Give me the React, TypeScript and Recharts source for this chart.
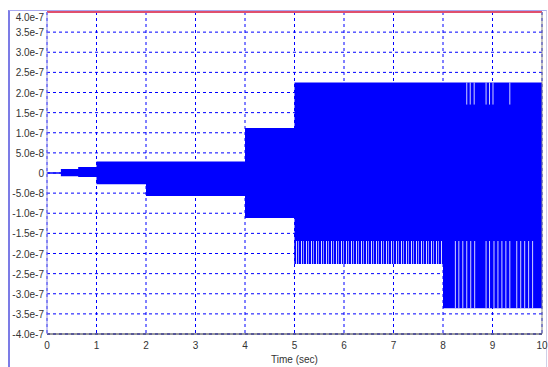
import React from "react";
import {
  ComposedChart,
  Area,
  XAxis,
  YAxis,
  CartesianGrid,
  ReferenceLine,
  ReferenceArea,
} from "recharts";

// envelope of the response: steps in time with the min/max of the oscillation
const times = [0, 0.28, 0.63, 1, 2, 4, 5, 8, 10];
const upper = [2e-9, 1e-8, 1.5e-8, 2.85e-8, 2.85e-8, 1.12e-7, 2.25e-7, 2.25e-7, 2.25e-7];
const lower = [-2e-9, -8e-9, -1e-8, -2.8e-8, -5.7e-8, -1.12e-7, -2.26e-7, -3.36e-7, -3.36e-7];

// band where the lower peaks only sometimes reach the full swing (5..8 s)
const partialBand = { t1: 5, t2: 8, from: -2.26e-7, to: -1.69e-7 };

// cycles that fall short of the envelope after 8 s
const lowGapTimes = [
  8.25, 8.32, 8.4, 8.48, 8.56, 8.64, 8.87, 8.94, 9.03, 9.11, 9.19, 9.27, 9.35,
  9.49, 9.57, 9.65, 9.73, 9.81,
];
const lowGapRange = [-3.36e-7, -1.69e-7];
const topGapTimes = [8.48, 8.55, 8.63, 8.87, 8.94, 9.01, 9.35];
const topGapRange = [1.7e-7, 2.25e-7];

const xTicks = [0, 1, 2, 3, 4, 5, 6, 7, 8, 9, 10];
const yTicks = [
  4e-7, 3.5e-7, 3e-7, 2.5e-7, 2e-7, 1.5e-7, 1e-7, 5e-8, 0, -5e-8, -1e-7,
  -1.5e-7, -2e-7, -2.5e-7, -3e-7, -3.5e-7, -4e-7,
];
const yTickLabels = [
  "4.0e-7", "3.5e-7", "3.0e-7", "2.5e-7", "2.0e-7", "1.5e-7", "1.0e-7",
  "5.0e-8", "0", "-5.0e-8", "-1.0e-7", "-1.5e-7", "-2.0e-7", "-2.5e-7",
  "-3.0e-7", "-3.5e-7", "-4.0e-7",
];

const rows = times.map((t, i) => ({ t, env: [lower[i], upper[i]] }));

const FONT = "'Liberation Sans', Arial, sans-serif";

const YTick = (props: any) => {
  const { x, y, payload } = props;
  const i = yTicks.indexOf(payload.value);
  const shift = i === 0 ? 5 : 0.5;
  return (
    <text
      x={x}
      y={y + shift}
      dy={3.6}
      textAnchor="end"
      fontSize={10}
      fontFamily={FONT}
      fill="#333"
    >
      {i >= 0 ? yTickLabels[i] : ""}
    </text>
  );
};

export default function App() {
  return (
    <div
      style={{
        position: "absolute",
        left: 0,
        top: 0,
        width: 548,
        height: 367,
        background: "#fff",
        fontFamily: FONT,
      }}
    >
      <div
        style={{
          position: "absolute",
          left: 8,
          top: 10,
          right: 1,
          bottom: 0,
          borderLeft: "2px solid #7c7ce6",
          borderTop: "1px solid #a8a8f0",
          borderRight: "1px solid #d0d0e8",
        }}
      />
      <div style={{ position: "absolute", left: 0, top: 0 }}>
        <ComposedChart
          width={548}
          height={367}
          data={rows}
          margin={{ top: 12, right: 6, bottom: 1, left: 0 }}
        >
          <defs>
            <pattern id="gaps" patternUnits="userSpaceOnUse" width={5} height={4}>
              <rect x={0} y={0} width={5} height={4} fill="#0000ff" />
              <rect x={1} y={0} width={1} height={4} fill="#d8d8ff" />
              <rect x={3} y={0} width={1} height={4} fill="#8c8cff" />
            </pattern>
          </defs>
          <CartesianGrid stroke="#0000ff" strokeDasharray="3 3" />
          <XAxis
            dataKey="t"
            type="number"
            domain={[0, 10]}
            ticks={xTicks}
            tickSize={0}
            tickMargin={8}
            height={32}
            axisLine={{ stroke: "#333" }}
            tick={{ fontSize: 10, fill: "#333", fontFamily: FONT }}
            label={{
              value: "Time (sec)",
              position: "insideBottom",
              offset: 3,
              fontSize: 10,
              fill: "#333",
              fontFamily: FONT,
            }}
          />
          <YAxis
            type="number"
            domain={[-4e-7, 4e-7]}
            ticks={yTicks}
            width={47}
            tickSize={0}
            tickMargin={3}
            interval={0}
            axisLine={{ stroke: "#8a8ae8" }}
            tick={<YTick />}
          />
          <Area
            dataKey="env"
            type="stepAfter"
            fill="#0000ff"
            fillOpacity={1}
            stroke="none"
            isAnimationActive={false}
          />
          <ReferenceArea
            x1={partialBand.t1}
            x2={partialBand.t2}
            y1={partialBand.from}
            y2={partialBand.to}
            fill="url(#gaps)"
            fillOpacity={1}
            stroke="none"
          />
          {lowGapTimes.map((t) => (
            <ReferenceLine
              key={`lo-${t}`}
              segment={[
                { x: t, y: lowGapRange[0] },
                { x: t, y: lowGapRange[1] },
              ]}
              stroke="#d0d0ff"
              strokeWidth={1}
            />
          ))}
          {topGapTimes.map((t) => (
            <ReferenceLine
              key={`hi-${t}`}
              segment={[
                { x: t, y: topGapRange[0] },
                { x: t, y: topGapRange[1] },
              ]}
              stroke="#d0d0ff"
              strokeWidth={1}
            />
          ))}
          <ReferenceLine y={4e-7} stroke="#e0506e" strokeWidth={2} />
          <ReferenceLine x={10} stroke="#888" strokeWidth={1} />
        </ComposedChart>
      </div>
    </div>
  );
}
